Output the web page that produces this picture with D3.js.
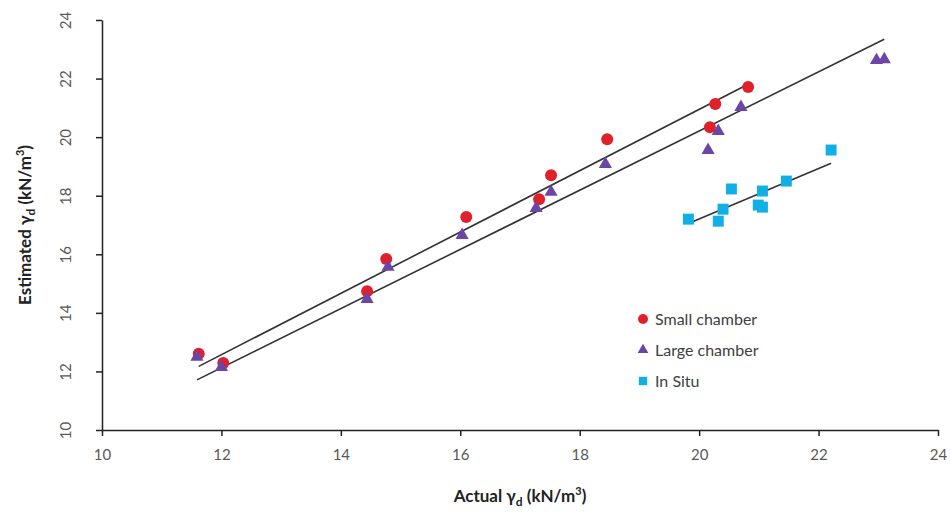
<!DOCTYPE html>
<html>
<head>
<meta charset="utf-8">
<script src="https://cdn.jsdelivr.net/npm/d3@7"></script>
<style>
  body { margin: 0; background: #fff; }
  svg text { font-family: Lato, "Open Sans", sans-serif; }
  .tick text { fill: #595959; font-size: 15px; }
  .axis path, .axis line { stroke: #222; stroke-width: 1.5px; }
  .axis--label { font-weight: bold; font-size: 17px; fill: #222; }
  .legend--text { font-size: 16px; fill: #404040; }
</style>
</head>
<body>
<div id="graphic"></div>
<script>
// data: [actual, estimated]
const smallChamber = [
  [11.62, 12.60], [12.03, 12.29], [14.44, 14.74], [14.76, 15.84],
  [16.10, 17.27], [17.32, 17.88], [17.52, 18.70], [18.46, 19.93],
  [20.18, 20.34], [20.27, 21.13], [20.82, 21.71]
];
const largeChamber = [
  [11.59, 12.53], [12.00, 12.18], [14.44, 14.50], [14.79, 15.60],
  [16.03, 16.69], [17.27, 17.61], [17.52, 18.16], [18.43, 19.11],
  [20.15, 19.59], [20.32, 20.24], [20.70, 21.06], [22.97, 22.66],
  [23.10, 22.69]
];
const inSitu = [
  [19.82, 17.20], [20.32, 17.13], [20.40, 17.54], [20.54, 18.23],
  [20.99, 17.68], [21.06, 17.61], [21.06, 18.16], [21.46, 18.50],
  [22.21, 19.56]
];
const xTicks = [10, 12, 14, 16, 18, 20, 22, 24];
const yTicks = [10, 12, 14, 16, 18, 20, 22, 24];

const width = 951, height = 518;
const margin = { top: 20, right: 13, bottom: 88, left: 102 };

const svg = d3.select('#graphic').append('svg')
  .attr('width', width).attr('height', height);

const x = d3.scaleLinear().domain([10, 24]).range([margin.left, width - margin.right]);
const y = d3.scaleLinear().domain([10, 24]).range([height - margin.bottom, margin.top]);

// axes
const xAxis = svg.append('g').attr('class', 'axis')
  .attr('transform', 'translate(0,' + (height - margin.bottom) + ')')
  .call(d3.axisBottom(x).tickValues(xTicks).tickSize(6).tickSizeOuter(0).tickPadding(10));
xAxis.selectAll('text').attr('dy', '0.9em');

const yAxis = svg.append('g').attr('class', 'axis')
  .attr('transform', 'translate(' + margin.left + ',0)')
  .call(d3.axisLeft(y).tickValues(yTicks).tickSize(6).tickSizeOuter(0));
yAxis.selectAll('text')
  .attr('x', 0)
  .attr('text-anchor', 'middle')
  .attr('transform', 'translate(-36,0) rotate(-90)')
  .attr('dy', '0.35em');

// linear trend lines through the origin, spanning each series
function trend(data) {
  const b = d3.sum(data, d => d[0] * d[1]) / d3.sum(data, d => d[0] * d[0]);
  return d3.extent(data, d => d[0]).map(v => [v, b * v]);
}
const line = d3.line().x(d => x(d[0])).y(d => y(d[1]));
[smallChamber, largeChamber, inSitu].forEach(s => {
  svg.append('path').attr('d', line(trend(s)))
    .attr('fill', 'none').attr('stroke', '#333').attr('stroke-width', 1.6);
});

// markers
const colRed = '#e0202a', colPurple = '#6b45a8', colCyan = '#12afe6';
const tri = d3.symbol().type(d3.symbolTriangle).size(75);
const sq = d3.symbol().type(d3.symbolSquare).size(120);

svg.append('g').selectAll('path').data(inSitu).join('path')
  .attr('d', sq).attr('fill', colCyan)
  .attr('transform', d => 'translate(' + x(d[0]) + ',' + y(d[1]) + ')');

svg.append('g').selectAll('circle').data(smallChamber).join('circle')
  .attr('cx', d => x(d[0])).attr('cy', d => y(d[1])).attr('r', 6)
  .attr('fill', colRed);

svg.append('g').selectAll('path').data(largeChamber).join('path')
  .attr('d', tri).attr('fill', colPurple)
  .attr('transform', d => 'translate(' + x(d[0]) + ',' + (y(d[1]) + 1) + ')');

// axis titles
const xt = svg.append('text').attr('class', 'axis--label')
  .attr('x', 520).attr('y', 502).attr('text-anchor', 'middle');
xt.append('tspan').text('Actual \u03b3');
xt.append('tspan').attr('font-size', '12px').attr('dy', 4).text('d');
xt.append('tspan').attr('dy', -4).text(' (kN/m');
xt.append('tspan').attr('font-size', '11px').attr('dy', -7).text('3');
xt.append('tspan').attr('dy', 7).text(')');

const yt = svg.append('text').attr('class', 'axis--label')
  .attr('transform', 'translate(31,225) rotate(-90)').attr('text-anchor', 'middle');
yt.append('tspan').text('Estimated \u03b3');
yt.append('tspan').attr('font-size', '12px').attr('dy', 4).text('d');
yt.append('tspan').attr('dy', -4).text(' (kN/m');
yt.append('tspan').attr('font-size', '11px').attr('dy', -7).text('3');
yt.append('tspan').attr('dy', 7).text(')');

// legend
const legendItems = [
  { label: 'Small chamber', kind: 'circle', colour: colRed },
  { label: 'Large chamber', kind: 'triangle', colour: colPurple },
  { label: 'In Situ', kind: 'square', colour: colCyan }
];
const lg = svg.append('g').attr('transform', 'translate(643,319)');
legendItems.forEach((d, i) => {
  const g = lg.append('g').attr('transform', 'translate(0,' + (i * 31) + ')');
  if (d.kind === 'circle') g.append('circle').attr('r', 5).attr('fill', d.colour);
  else if (d.kind === 'triangle') g.append('path').attr('d', d3.symbol().type(d3.symbolTriangle).size(50)).attr('fill', d.colour);
  else g.append('path').attr('d', d3.symbol().type(d3.symbolSquare).size(70)).attr('fill', d.colour);
  g.append('text').attr('class', 'legend--text').attr('x', 12).attr('dy', '0.35em').text(d.label);
});
</script>
</body>
</html>
